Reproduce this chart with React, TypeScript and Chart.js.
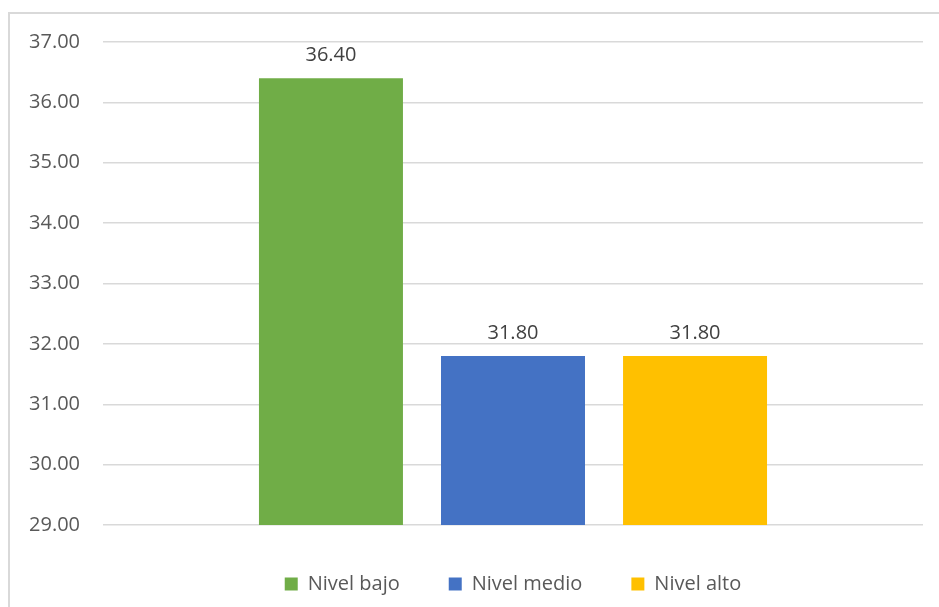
import React, { useEffect, useRef } from "react";
import { Chart, registerables } from "chart.js";

Chart.register(...registerables);

// Series names, values and colours (one bar per level)
const seriesNames = ["Nivel bajo", "Nivel medio", "Nivel alto"];
const seriesValues = [36.4, 31.8, 31.8];
const seriesColors = ["#70ad47", "#4472c4", "#ffc000"];
const categories = [""];

// Value axis range
const yMin = 29;
const yMax = 37;
const yStep = 1;

const FONT = "'Open Sans', sans-serif";

// Draws the value above each bar
const valueLabels = {
  id: "valueLabels",
  afterDatasetsDraw(chart: any) {
    const { ctx } = chart;
    ctx.save();
    ctx.font = `20px ${FONT}`;
    ctx.fillStyle = "#404040";
    ctx.textAlign = "center";
    ctx.textBaseline = "alphabetic";
    chart.data.datasets.forEach((ds: any, i: number) => {
      const meta = chart.getDatasetMeta(i);
      meta.data.forEach((bar: any, j: number) => {
        const v = ds.data[j] as number;
        ctx.fillText(v.toFixed(2), bar.x, bar.y - 17);
      });
    });
    ctx.restore();
  },
};

export default function App() {
  const canvasRef = useRef<HTMLCanvasElement | null>(null);

  useEffect(() => {
    if (!canvasRef.current) return;
    const chart = new Chart(canvasRef.current, {
      type: "bar",
      data: {
        labels: categories,
        datasets: seriesNames.map((name, i) => ({
          label: name,
          data: [seriesValues[i]],
          backgroundColor: seriesColors[i],
          borderWidth: 0,
          categoryPercentage: 0.666,
          barPercentage: 0.791,
        })),
      },
      options: {
        responsive: false,
        animation: false,
        layout: { padding: { left: 0, right: 16, top: 42, bottom: 3 } },
        scales: {
          x: { display: false },
          y: {
            min: yMin,
            max: yMax,
            afterFit(scale: any) {
              scale.width = 103;
            },
            border: { display: false },
            grid: { color: "#d9d9d9", lineWidth: 1.5, drawTicks: false },
            ticks: {
              stepSize: yStep,
              padding: 23,
              color: "#595959",
              font: { family: FONT, size: 20 },
              callback: (v: any) => Number(v).toFixed(2),
            },
          },
        },
        plugins: {
          tooltip: { enabled: false },
          legend: {
            position: "bottom",
            fullSize: false,
            labels: {
              boxWidth: 13,
              boxHeight: 13,
              padding: 49,
              color: "#595959",
              font: { family: FONT, size: 20 },
            },
          },
        },
      },
      plugins: [valueLabels],
    });
    return () => chart.destroy();
  }, []);

  return (
    <div style={{ position: "fixed", left: 0, top: 0, width: 939, height: 607, background: "#ffffff", overflow: "hidden" }}>
      <div
        style={{
          position: "absolute",
          left: 8,
          top: 12,
          width: 960,
          height: 620,
          borderTop: "2px solid #d9d9d9",
          borderLeft: "2px solid #d9d9d9",
          boxSizing: "border-box",
        }}
      />
      <canvas ref={canvasRef} width={939} height={607} style={{ position: "absolute", left: 0, top: 0 }} />
    </div>
  );
}
